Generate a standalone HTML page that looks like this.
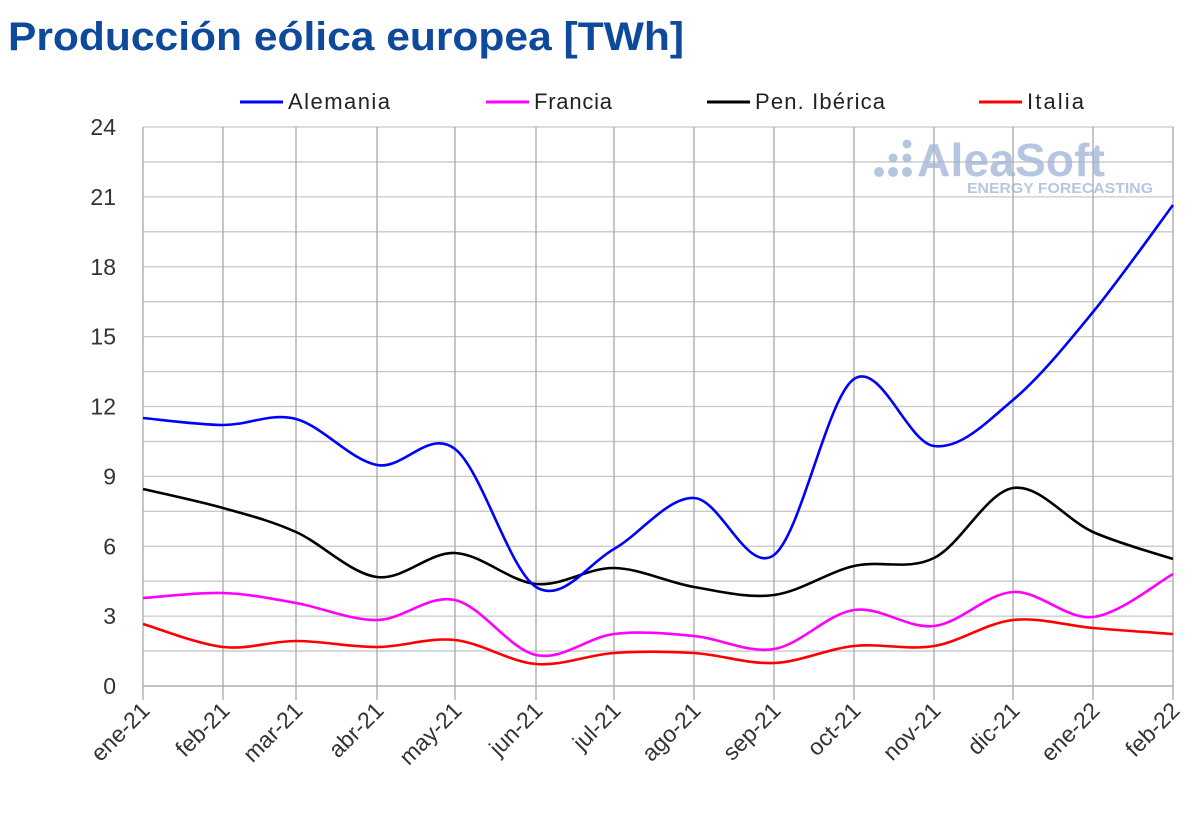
<!DOCTYPE html>
<html><head><meta charset="utf-8"><style>
body{margin:0;background:#fff;width:1200px;height:831px;overflow:hidden;font-family:"Liberation Sans",sans-serif}
</style></head><body>
<svg id="s" width="1200" height="831" xmlns="http://www.w3.org/2000/svg" font-family="Liberation Sans, sans-serif">
<text x="8" y="50" font-size="40" font-weight="bold" fill="#0d4a9c" textLength="676" lengthAdjust="spacingAndGlyphs">Producción eólica europea [TWh]</text>
<g id="grid"></g>
<g opacity="0.75" fill="#9fb4d6">
<circle cx="879" cy="172" r="5"/><circle cx="893" cy="172" r="5"/><circle cx="907" cy="172" r="5"/>
<circle cx="893" cy="158" r="4.5"/><circle cx="907" cy="158" r="4.5"/><circle cx="907" cy="144" r="4.5"/>
<text x="917" y="176" font-size="46" font-weight="bold" textLength="188" lengthAdjust="spacingAndGlyphs">AleaSoft</text>
<text x="967" y="193" font-size="15" font-weight="bold" textLength="186" lengthAdjust="spacingAndGlyphs">ENERGY FORECASTING</text>
</g>
<g id="series"></g>
<g font-size="22" fill="#222">
<line x1="240" y1="102" x2="283" y2="102" stroke="#0000ff" stroke-width="3"/><text x="288" y="109" textLength="102">Alemania</text>
<line x1="486" y1="102" x2="529" y2="102" stroke="#ff00ff" stroke-width="3"/><text x="534" y="109" textLength="78">Francia</text>
<line x1="707" y1="102" x2="750" y2="102" stroke="#000" stroke-width="3"/><text x="755" y="109" textLength="130">Pen. Ibérica</text>
<line x1="979" y1="102" x2="1022" y2="102" stroke="#ff0000" stroke-width="3"/><text x="1027" y="109" textLength="57">Italia</text>
</g>
</svg>
<script>
const xs=[143,223,296,377,455,536,614,694,774,854,934,1013,1093,1173];
const labels=["ene-21","feb-21","mar-21","abr-21","may-21","jun-21","jul-21","ago-21","sep-21","oct-21","nov-21","dic-21","ene-22","feb-22"];
const y0=686,k=(686-127)/24;
let g="";
for(let i=0;i<=16;i++){const y=y0-i*1.5*k;g+=`<line x1="143" y1="${y}" x2="1173" y2="${y}" stroke="#c8c8c8" stroke-width="1.3"/>`;}
for(let i=0;i<=8;i++){const y=y0-i*3*k;g+=`<text x="116" y="${y+8}" font-size="23" fill="#333" text-anchor="end">${i*3}</text>`;}
xs.forEach((x,i)=>{g+=`<line x1="${x}" y1="127" x2="${x}" y2="700" stroke="#a8a8a8" stroke-width="1.3"/>`;
g+=`<text transform="translate(${x+8},${712}) rotate(-45)" font-size="23" fill="#333" text-anchor="end">${labels[i]}</text>`;});
g+=`<line x1="143" y1="686" x2="1173" y2="686" stroke="#a8a8a8" stroke-width="1.3"/>`;
document.getElementById("grid").innerHTML=g;
const data={"#0000ff":[418,425,419,465,449,587,549,498,555,379,446,400,312,205],
"#ff00ff":[598,593,603,620,600,655,634,636,649,610,626,592,617,574],
"#000000":[489,508,532,577,553,584,568,587,595,566,558,488,532,559],
"#ff0000":[624,647,641,647,640,664,653,653,663,646,646,620,628,634]};
let s="";
for(const c of ["#ff0000","#ff00ff","#000000","#0000ff"]){const ys=data[c];const P=xs.map((x,i)=>[x,ys[i]]);
let d=`M${P[0][0]},${P[0][1]}`;
for(let i=0;i<P.length-1;i++){const p0=P[Math.max(0,i-1)],p1=P[i],p2=P[i+1],p3=P[Math.min(P.length-1,i+2)];
const t=6;d+=` C${p1[0]+(p2[0]-p0[0])/t},${p1[1]+(p2[1]-p0[1])/t} ${p2[0]-(p3[0]-p1[0])/t},${p2[1]-(p3[1]-p1[1])/t} ${p2[0]},${p2[1]}`;}
s+=`<path d="${d}" fill="none" stroke="${c}" stroke-width="2.6"/>`;}
document.getElementById("series").innerHTML=s;
</script>
</body></html>
